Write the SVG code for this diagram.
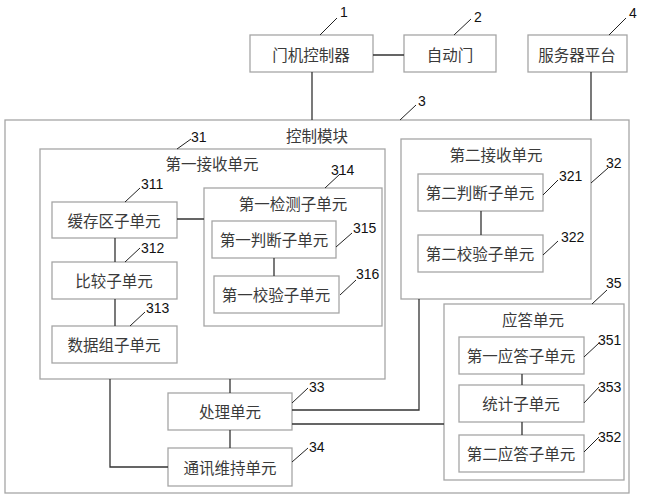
<svg xmlns="http://www.w3.org/2000/svg" width="658" height="500" viewBox="0 0 658 500">
<style>
.b{fill:#fff;stroke:#a6a6a6;stroke-width:1.3}
.c{fill:none;stroke:#333;stroke-width:1.3}
.l{fill:none;stroke:#222;stroke-width:1}
.t{font-family:"Noto Sans CJK SC","Noto Sans CJK JP",sans-serif;font-size:15.5px;fill:#3a3a3a;text-anchor:middle;dominant-baseline:central}
.n{font-family:"Liberation Sans",sans-serif;font-size:14px;fill:#111}
</style>
<rect width="658" height="500" fill="#fff"/>
<g id="n3"><rect class="b" x="5" y="120" width="624" height="373"/><text class="t" x="317" y="135">控制模块</text></g>
<g id="n1"><rect class="b" x="250" y="35" width="123" height="37"/><text class="t" x="311" y="54">门机控制器</text></g>
<g id="n2"><rect class="b" x="404" y="35" width="92" height="37"/><text class="t" x="450" y="54">自动门</text></g>
<g id="n4"><rect class="b" x="528" y="35" width="99" height="37"/><text class="t" x="577" y="54">服务器平台</text></g>
<g id="n31"><rect class="b" x="40" y="149" width="345" height="230"/><text class="t" x="212" y="163">第一接收单元</text></g>
<g id="n311"><rect class="b" x="52" y="202" width="125" height="36"/><text class="t" x="114" y="220">缓存区子单元</text></g>
<g id="n312"><rect class="b" x="52" y="262" width="125" height="37"/><text class="t" x="114" y="280">比较子单元</text></g>
<g id="n313"><rect class="b" x="52" y="326" width="125" height="37"/><text class="t" x="114" y="344">数据组子单元</text></g>
<g id="n314"><rect class="b" x="204" y="188" width="178" height="138"/><text class="t" x="293" y="203">第一检测子单元</text></g>
<g id="n315"><rect class="b" x="212" y="221" width="124" height="37"/><text class="t" x="274" y="239">第一判断子单元</text></g>
<g id="n316"><rect class="b" x="214" y="276" width="125" height="37"/><text class="t" x="276" y="294">第一校验子单元</text></g>
<g id="n32"><rect class="b" x="401" y="139" width="190" height="160"/><text class="t" x="496" y="154">第二接收单元</text></g>
<g id="n321"><rect class="b" x="418" y="174" width="125" height="37"/><text class="t" x="480" y="192">第二判断子单元</text></g>
<g id="n322"><rect class="b" x="418" y="235" width="125" height="37"/><text class="t" x="480" y="253">第二校验子单元</text></g>
<g id="n35"><rect class="b" x="444" y="304" width="180" height="176"/><text class="t" x="533" y="319">应答单元</text></g>
<g id="n351"><rect class="b" x="459" y="337" width="125" height="37"/><text class="t" x="521" y="355">第一应答子单元</text></g>
<g id="n353"><rect class="b" x="459" y="385" width="125" height="37"/><text class="t" x="521" y="403">统计子单元</text></g>
<g id="n352"><rect class="b" x="459" y="435" width="125" height="37"/><text class="t" x="521" y="453">第二应答子单元</text></g>
<g id="n33"><rect class="b" x="168" y="393" width="124" height="37"/><text class="t" x="230" y="411">处理单元</text></g>
<g id="n34"><rect class="b" x="168" y="448" width="124" height="38"/><text class="t" x="230" y="467">通讯维持单元</text></g>
<g id="connectors">
<path class="c" d="M373 55H404M312 72V120M591 72V120M177 219H204M115 238V262M115 299V326M274 258V276M481 211V235M522 374V385M522 422V435M230 379V393M230 430V448M110 379V467H168M292 410H419V299M292 424H444"/>
</g>
<g id="labels">
<path class="l" d="M320 35L337 18M454 35L471 19M609 35L626 18M400 120L416 105M177 149L191 139M125 202L140 188M125 262L140 248M130 326L145 312M325 188L340 174M336 247L352 233M340 295L356 280M591 183L608 168M543 195L558 180M543 255L558 241M592 304L607 290M584 357L599 343M584 403L599 387M584 452L599 437M292 403L308 388M292 462L308 448"/>
<text class="n" x="340" y="17">1</text>
<text class="n" x="474" y="22">2</text>
<text class="n" x="629" y="18">4</text>
<text class="n" x="418" y="106">3</text>
<text class="n" x="191" y="142">31</text>
<text class="n" x="141" y="189">311</text>
<text class="n" x="141" y="253">312</text>
<text class="n" x="146" y="313">313</text>
<text class="n" x="331" y="175">314</text>
<text class="n" x="353" y="233">315</text>
<text class="n" x="356" y="279">316</text>
<text class="n" x="606" y="168">32</text>
<text class="n" x="559" y="181">321</text>
<text class="n" x="561" y="242">322</text>
<text class="n" x="606" y="288">35</text>
<text class="n" x="598" y="345">351</text>
<text class="n" x="598" y="392">353</text>
<text class="n" x="598" y="442">352</text>
<text class="n" x="309" y="392">33</text>
<text class="n" x="309" y="452">34</text>
</g>
</svg>
